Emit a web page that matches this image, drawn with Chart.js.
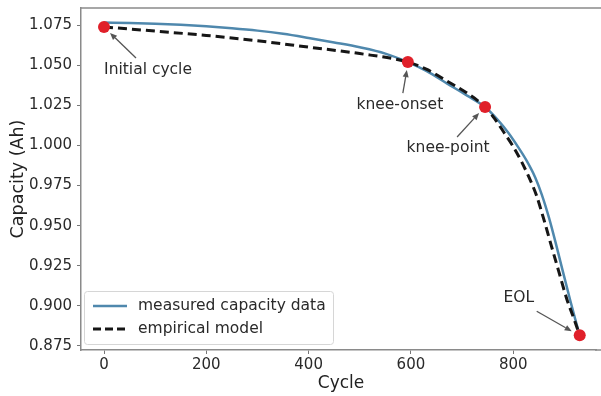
<!DOCTYPE html>
<html>
<head>
<meta charset="utf-8">
<script src="https://cdn.jsdelivr.net/npm/chart.js@4.4.0/dist/chart.umd.min.js"></script>
<style>
  html, body { margin: 0; padding: 0; background: #ffffff; overflow: hidden; }
  #wrap { width: 601px; height: 396px; }
  canvas { display: block; }
</style>
</head>
<body>
<div id="wrap"><canvas id="c" width="601" height="396"></canvas></div>
<script>
// ---- data ----
const measuredCycles   = [0, 50, 100, 150, 200, 250, 300, 350, 400, 450, 500, 550, 594, 630, 671, 710, 745, 768, 790, 809, 827, 843, 856, 870, 884, 897, 911, 921, 930];
const measuredCapacity = [1.0765, 1.0763, 1.0758, 1.0751, 1.0742, 1.0730, 1.0715, 1.0695, 1.0669, 1.0641, 1.0611, 1.0572, 1.0519, 1.0464, 1.0385, 1.0310, 1.0239, 1.0165, 1.0080, 0.9992, 0.9900, 0.9800, 0.9692, 0.9548, 0.9380, 0.9215, 0.9040, 0.8920, 0.8817];

const modelCycles   = [0, 100, 200, 300, 400, 500, 594, 630, 671, 710, 745, 764, 782, 800, 816, 831, 845, 859, 874, 889, 905, 917, 930];
const modelCapacity = [1.0738, 1.0712, 1.0685, 1.0652, 1.0612, 1.0572, 1.0519, 1.0475, 1.0400, 1.0325, 1.0239, 1.0165, 1.0080, 0.9992, 0.9900, 0.9800, 0.9692, 0.9548, 0.9380, 0.9215, 0.9040, 0.8935, 0.8817];

const keyCycles   = [0, 594, 745, 930];
const keyCapacity = [1.0738, 1.0519, 1.0239, 0.8817];
const keyLabels   = ["Initial cycle", "knee-onset", "knee-point", "EOL"];

const xTicks = [0, 200, 400, 600, 800];
const yTicks = [0.875, 0.900, 0.925, 0.950, 0.975, 1.000, 1.025, 1.050, 1.075];

const seriesLabels = ["measured capacity data", "empirical model"];
const axisTitles = { x: "Cycle", y: "Capacity (Ah)" };

// ---- styles ----
const BLUE = "#4f88ad";
const DASH = "#161616";
const RED = "#e0202a";
const FONT = "'DejaVu Sans', 'Liberation Sans', sans-serif";

// annotation placement (pixel offsets from the marked point)
const annoStyle = [
  { text: [44, 43], tail: [32, 31], head: [6, 6] },
  { text: [-8, 43], tail: [-5, 31], head: [-1, 8] },
  { text: [-37, 41], tail: [-28, 30], head: [-6, 6] },
  { text: [-61, -37], tail: [-43, -24], head: [-8, -4] }
];

const toXY = (xs, ys) => xs.map((x, i) => ({ x: x, y: ys[i] }));

function drawArrow(ctx, x1, y1, x2, y2) {
  const ang = Math.atan2(y2 - y1, x2 - x1);
  const hl = 7, hw = 3;
  const bx = x2 - hl * Math.cos(ang), by = y2 - hl * Math.sin(ang);
  ctx.beginPath();
  ctx.moveTo(x1, y1);
  ctx.lineTo(bx, by);
  ctx.stroke();
  ctx.beginPath();
  ctx.moveTo(x2, y2);
  ctx.lineTo(bx + hw * Math.sin(ang), by - hw * Math.cos(ang));
  ctx.lineTo(bx - hw * Math.sin(ang), by + hw * Math.cos(ang));
  ctx.closePath();
  ctx.fill();
}

const overlay = {
  id: 'overlay',
  afterDatasetsDraw(chart) {
    const ctx = chart.ctx;
    const xs = chart.scales.x, ys = chart.scales.y;
    ctx.save();
    // annotations
    ctx.font = "15.5px " + FONT;
    ctx.textAlign = "center";
    ctx.textBaseline = "middle";
    keyLabels.forEach((lab, i) => {
      const px = xs.getPixelForValue(keyCycles[i]);
      const py = ys.getPixelForValue(keyCapacity[i]);
      const s = annoStyle[i];
      ctx.fillStyle = "#2a2a2a";
      ctx.fillText(lab, px + s.text[0], py + s.text[1]);
      ctx.strokeStyle = "#555555";
      ctx.fillStyle = "#555555";
      ctx.lineWidth = 1.3;
      drawArrow(ctx, px + s.tail[0], py + s.tail[1], px + s.head[0], py + s.head[1]);
    });

    // legend
    const lx = 84, ly = 291, lw = 249, lh = 53;
    ctx.fillStyle = "rgba(255,255,255,0.85)";
    ctx.strokeStyle = "#d6d6d6";
    ctx.lineWidth = 1;
    ctx.beginPath();
    if (ctx.roundRect) ctx.roundRect(lx + 0.5, ly + 0.5, lw, lh, 3); else ctx.rect(lx + 0.5, ly + 0.5, lw, lh);
    ctx.fill();
    ctx.stroke();
    ctx.textAlign = "left";
    ctx.textBaseline = "middle";
    ctx.font = "15.5px " + FONT;
    ctx.strokeStyle = BLUE;
    ctx.lineWidth = 2.5;
    ctx.setLineDash([]);
    ctx.beginPath(); ctx.moveTo(93, 306); ctx.lineTo(127, 306); ctx.stroke();
    ctx.fillStyle = "#2a2a2a";
    ctx.fillText(seriesLabels[0], 138, 306);
    ctx.strokeStyle = DASH;
    ctx.lineWidth = 3;
    ctx.setLineDash([8, 4]);
    ctx.beginPath(); ctx.moveTo(93, 329); ctx.lineTo(127, 329); ctx.stroke();
    ctx.setLineDash([]);
    ctx.fillText(seriesLabels[1], 138, 329);
    ctx.restore();
  },
  afterDraw(chart) {
    const ctx = chart.ctx;
    const a = chart.chartArea;
    ctx.save();
    // clear the far-right column, then redraw spines to the canvas edge
    ctx.fillStyle = "#ffffff";
    ctx.fillRect(chart.width - 4, 0, 4, chart.height);
    ctx.strokeStyle = "#8a8a8a";
    ctx.lineWidth = 1.5;
    ctx.beginPath();
    ctx.moveTo(a.left, a.top);
    ctx.lineTo(chart.width, a.top);
    ctx.moveTo(chart.width - 6, a.bottom);
    ctx.lineTo(chart.width, a.bottom);
    ctx.stroke();
    ctx.restore();
  }
};

new Chart(document.getElementById('c'), {
  type: 'scatter',
  data: {
    datasets: [
      { label: "key points", data: toXY(keyCycles, keyCapacity), showLine: false, pointRadius: 6,
        pointBackgroundColor: RED, pointBorderColor: RED, pointBorderWidth: 0 },
      { label: seriesLabels[1], data: toXY(modelCycles, modelCapacity), showLine: true, borderColor: DASH,
        borderWidth: 3, borderDash: [9, 5], pointRadius: 0, cubicInterpolationMode: 'monotone', fill: false },
      { label: seriesLabels[0], data: toXY(measuredCycles, measuredCapacity), showLine: true, borderColor: BLUE,
        borderWidth: 2.5, pointRadius: 0, cubicInterpolationMode: 'monotone', fill: false }
    ]
  },
  options: {
    responsive: false,
    animation: false,
    devicePixelRatio: 1,
    layout: { autoPadding: false, padding: { left: 0, right: 0, top: 8, bottom: 0 } },
    plugins: { legend: { display: false }, tooltip: { enabled: false } },
    scales: {
      x: {
        type: 'linear', min: -45, max: 971.6,
        afterFit: s => { s.height = 46; s.paddingLeft = 0; s.paddingRight = 0; },
        afterBuildTicks: s => { s.ticks = xTicks.map(v => ({ value: v })); },
        grid: { display: true, drawOnChartArea: false, drawTicks: true, tickLength: 4, color: "#777777", lineWidth: 1 },
        border: { display: true, color: "#8a8a8a", width: 1.5 },
        ticks: { color: "#2a2a2a", font: { family: FONT, size: 15 }, padding: 2, maxRotation: 0, callback: v => String(v) },
        title: { display: true, text: axisTitles.x, color: "#222222", font: { family: FONT, size: 17 }, padding: { top: 0, bottom: 2 } }
      },
      y: {
        type: 'linear', min: 0.8725, max: 1.0856,
        afterFit: s => { s.width = 81; s.paddingTop = 0; s.paddingBottom = 0; },
        afterBuildTicks: s => { s.ticks = yTicks.map(v => ({ value: v })); },
        grid: { display: true, drawOnChartArea: false, drawTicks: true, tickLength: 4, color: "#777777", lineWidth: 1 },
        border: { display: true, color: "#8a8a8a", width: 1.5 },
        ticks: { color: "#2a2a2a", font: { family: FONT, size: 15 }, padding: 5, callback: v => v.toFixed(3) },
        title: { display: true, text: axisTitles.y, color: "#222222", font: { family: FONT, size: 17.5 }, padding: { top: 8, bottom: 0 } }
      }
    }
  },
  plugins: [overlay]
});
</script>
</body>
</html>
